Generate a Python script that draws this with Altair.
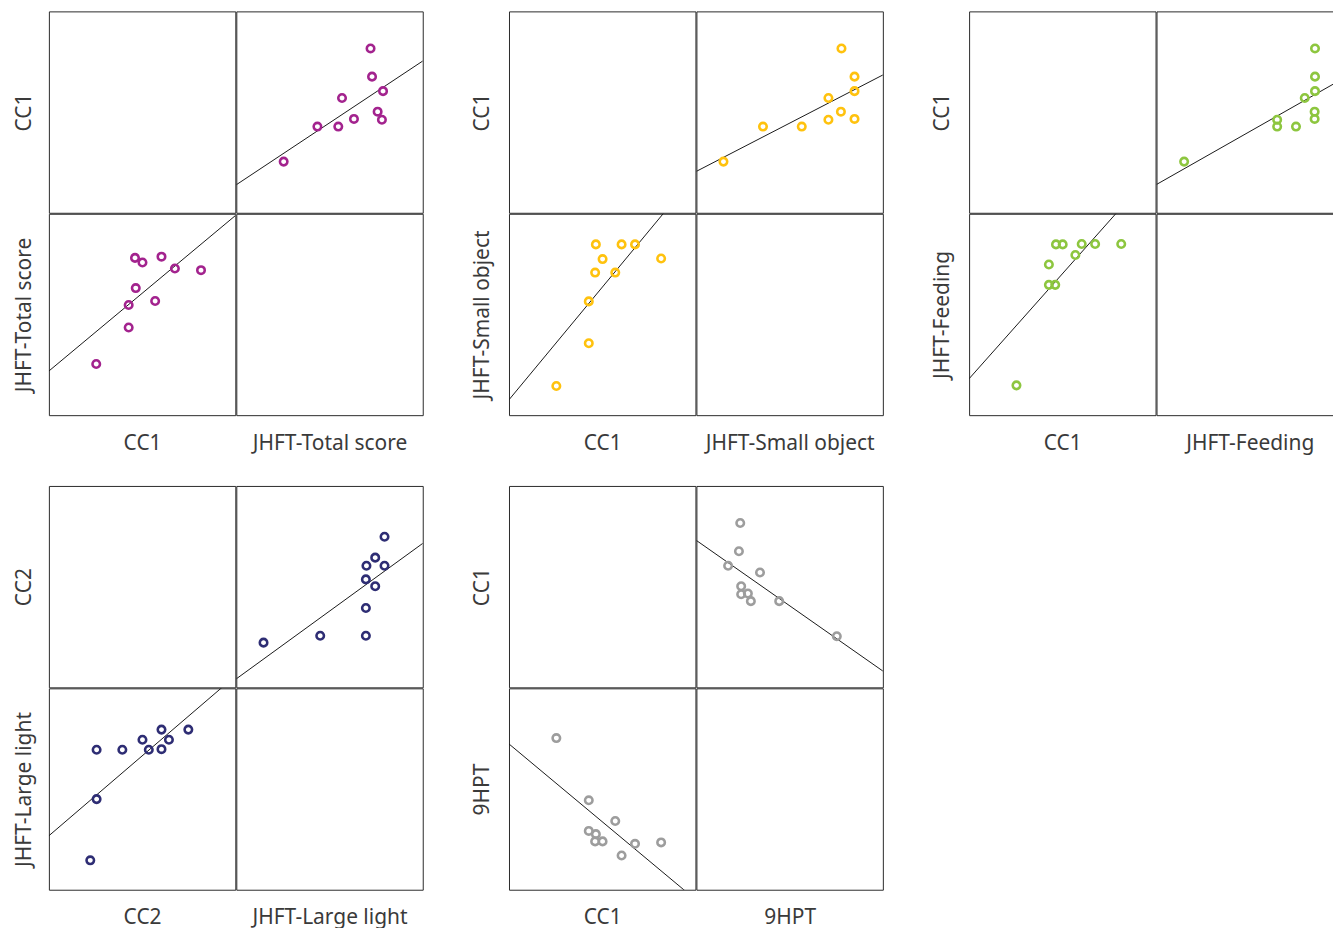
import altair as alt
import pandas as pd

# ---- data (10 subjects) ----
subjects = ["S1", "S2", "S3", "S4", "S5", "S6", "S7", "S8", "S9", "S10"]
cc1 = [1.58, 0.88, 0.52, 0.35, 0.01, -0.17, -0.19, -0.36, -0.36, -1.23]
jhft_total = [72.0, 72.8, 78.7, 56.7, 75.8, 63.1, 78.1, 43.5, 54.7, 25.4]
jhft_small = [77.8, 84.8, 84.8, 70.8, 77.5, 84.8, 70.8, 35.7, 56.5, 14.5]
jhft_feeding = [85.0, 85.0, 85.0, 79.5, 84.8, 84.8, 64.7, 64.7, 74.8, 14.8]
hpt9 = [23.5, 22.8, 17.0, 34.1, 24.0, 27.6, 24.0, 29.2, 44.4, 75.3]

cc2 = [1.24, 0.72, 0.52, 0.52, 0.18, 0.01, -0.53, -1.22, -1.22, -1.39]
large_light = [79.5, 74.5, 79.5, 69.8, 69.5, 74.5, 69.5, 69.5, 45.0, 14.6]

cc_domain = [-2.5, 2.5]
score_domain = [0, 100]

# (row/col variable, its values, second variable, its values, colour, y-title padding)
panel_defs = [
    ("CC1", cc1, "JHFT-Total score", jhft_total, "#A3238E", 14),
    ("CC1", cc1, "JHFT-Small object", jhft_small, "#FFC20E", 17),
    ("CC1", cc1, "JHFT-Feeding", jhft_feeding, "#8DC63F", 17),
    ("CC2", cc2, "JHFT-Large light", large_light, "#2E2D74", 14),
    ("CC1", cc1, "9HPT", hpt9, "#9D9D9D", 17),
]

CELL_W, CELL_H = 187, 202


def enc_axis(title, tp=None):
    if title is None:
        return None
    if tp is None:
        return alt.Axis(title=title, labels=False, ticks=False, domain=False, grid=False)
    return alt.Axis(title=title, labels=False, ticks=False, domain=False, grid=False,
                    titlePadding=tp)


def cell(df, xf, yf, xdom, ydom, color, xtitle=None, ytitle=None, ytp=None, empty=False):
    base = alt.Chart(df).encode(
        x=alt.X(f"{xf}:Q", scale=alt.Scale(domain=xdom, nice=False, zero=False), axis=enc_axis(xtitle)),
        y=alt.Y(f"{yf}:Q", scale=alt.Scale(domain=ydom, nice=False, zero=False), axis=enc_axis(ytitle, ytp)),
    )
    if empty:
        ch = base.mark_point(opacity=0)
    else:
        line = base.transform_regression(xf, yf, extent=xdom).mark_line(
            color="#1a1a1a", strokeWidth=1, clip=True
        )
        pts = base.mark_point(shape="circle", filled=False, size=56, strokeWidth=2.6,
                              color=color, opacity=1)
        ch = alt.layer(line, pts)
    return ch.properties(width=CELL_W, height=CELL_H)


def panel(cc_name, cc_vals, s_name, s_vals, color, ytp):
    df = pd.DataFrame({"subject": subjects, "cc": cc_vals, "score": s_vals})
    tl = cell(df, "score", "cc", score_domain, cc_domain, color, ytitle=cc_name, ytp=ytp, empty=True)
    tr = cell(df, "score", "cc", score_domain, cc_domain, color)
    bl = cell(df, "cc", "score", cc_domain, score_domain, color, xtitle=cc_name, ytitle=s_name, ytp=ytp)
    br = cell(df, "cc", "score", cc_domain, score_domain, color, xtitle=s_name, empty=True)
    return alt.vconcat(alt.hconcat(tl, tr, spacing=-2), alt.hconcat(bl, br, spacing=-2), spacing=-2)


panels = [panel(*p) for p in panel_defs]
top = alt.hconcat(panels[0], panels[1], panels[2], spacing=46.5)
bottom = alt.hconcat(panels[3], panels[4], spacing=46.5)

chart = alt.vconcat(top, bottom, spacing=31).properties(
    padding={"left": 5, "top": 1, "right": -11, "bottom": 0},
    background="white",
).configure_axis(
    titleFont="Noto Sans", titleFontSize=21, titleFontWeight="normal",
    titleColor="#3a3a3a",
).configure_axisX(
    titlePadding=17
).configure_axisY(
    titlePadding=17
).configure_view(
    stroke="#2b2b2b", strokeWidth=1, strokeJoin="bevel"
)

chart.save("out.html", embed_options={"renderer": "svg", "actions": False})
